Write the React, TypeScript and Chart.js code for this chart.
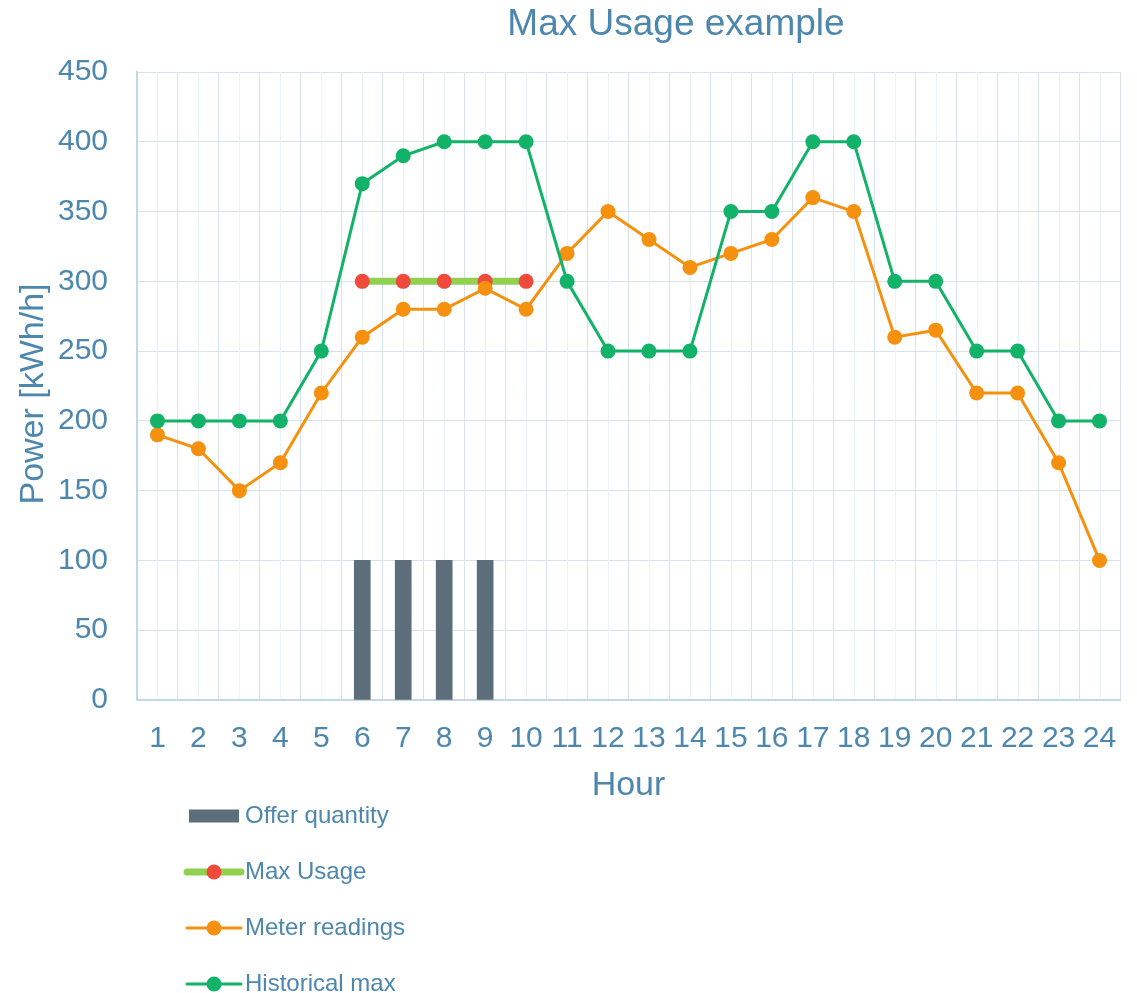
import React, { useEffect, useRef } from "react";
import { Chart, registerables } from "chart.js";

Chart.register(...registerables);

const hours = ["1","2","3","4","5","6","7","8","9","10","11","12","13","14","15","16","17","18","19","20","21","22","23","24"];
const offerQuantity = [null,null,null,null,null,100,100,100,100,null,null,null,null,null,null,null,null,null,null,null,null,null,null,null];
const maxUsage = [null,null,null,null,null,300,300,300,300,300,null,null,null,null,null,null,null,null,null,null,null,null,null,null];
const meterReadings = [190,180,150,170,220,260,280,280,295,280,320,350,330,310,320,330,360,350,260,265,220,220,170,100];
const historicalMax = [200,200,200,200,250,370,390,400,400,400,300,250,250,250,350,350,400,400,300,300,250,250,200,200];
const yMin = 0;
const yMax = 450;
const yStep = 50;
const chartTitle = "Max Usage example";
const xTitle = "Hour";
const yTitle = "Power [kWh/h]";

const TEXT = "#4d87ae";
const FONT = "'Liberation Sans', Arial, sans-serif";
const GRID = "#d6e3ed";
const MINOR = "#ecf2f7";
const AXIS = "#c4d7e5";

const minorGrid = {
  id: "minorGrid",
  beforeDatasetsDraw(chart: any) {
    const xs = chart.scales.x;
    const { top, bottom } = chart.chartArea;
    const ctx = chart.ctx;
    ctx.save();
    ctx.strokeStyle = MINOR;
    ctx.lineWidth = 1;
    for (let i = 0; i < chart.data.labels.length; i++) {
      const px = Math.round(xs.getPixelForValue(i)) + 0.5;
      ctx.beginPath();
      ctx.moveTo(px, top);
      ctx.lineTo(px, bottom - 1);
      ctx.stroke();
    }
    ctx.restore();
  },
};

const offsetTitles = {
  id: "offsetTitles",
  afterDraw(chart: any, _args: any, opts: any) {
    const ctx = chart.ctx;
    ctx.save();
    ctx.fillStyle = TEXT;
    ctx.textAlign = "center";
    ctx.textBaseline = "middle";
    ctx.font = `37px ${FONT}`;
    ctx.fillText(opts.title, opts.titleX, opts.titleY);
    ctx.font = `34px ${FONT}`;
    ctx.translate(opts.yTitleX, opts.yTitleY);
    ctx.rotate(-Math.PI / 2);
    ctx.fillText(opts.yTitle, 0, 0);
    ctx.restore();
  },
};

const customLegend = {
  id: "customLegend",
  afterDraw(chart: any, _args: any, opts: any) {
    const ctx = chart.ctx;
    const ds = chart.data.datasets;
    ctx.save();
    ctx.font = `24px ${FONT}`;
    ctx.textBaseline = "middle";
    ctx.textAlign = "left";
    ds.forEach((d: any, i: number) => {
      const cy = opts.top + i * opts.spacing;
      const x0 = opts.left;
      const x1 = opts.left + opts.width;
      const cx = (x0 + x1) / 2;
      if (d.type === "bar") {
        ctx.fillStyle = d.backgroundColor;
        ctx.fillRect(x0 + 2, cy - 6.5, opts.width - 4, 13);
      } else {
        ctx.strokeStyle = d.borderColor;
        ctx.lineWidth = d.borderWidth;
        ctx.lineCap = "round";
        ctx.beginPath();
        ctx.moveTo(x0, cy);
        ctx.lineTo(x1, cy);
        ctx.stroke();
        ctx.fillStyle = d.pointBackgroundColor;
        ctx.beginPath();
        ctx.arc(cx, cy, d.pointRadius, 0, Math.PI * 2);
        ctx.fill();
      }
      ctx.fillStyle = TEXT;
      ctx.fillText(d.label, x1 + 4, cy);
    });
    ctx.restore();
  },
};

export default function App() {
  const ref = useRef<HTMLCanvasElement>(null);
  useEffect(() => {
    document.body.style.overflow = "hidden";
    const chart = new Chart(ref.current!, {
      type: "bar",
      data: {
        labels: hours,
        datasets: [
          {
            type: "bar",
            label: "Offer quantity",
            data: offerQuantity,
            backgroundColor: "#5b6e7a",
            barThickness: 16,
            order: 3,
          } as any,
          {
            type: "line",
            label: "Max Usage",
            data: maxUsage,
            borderColor: "#92d050",
            borderWidth: 7,
            pointBackgroundColor: "#ef4a3b",
            pointBorderColor: "#ef4a3b",
            pointBorderWidth: 0,
            pointRadius: 7.5,
            spanGaps: false,
            order: 2,
          },
          {
            type: "line",
            label: "Meter readings",
            data: meterReadings,
            borderColor: "#f5910f",
            borderWidth: 3,
            pointBackgroundColor: "#f5910f",
            pointBorderColor: "#f5910f",
            pointBorderWidth: 0,
            pointRadius: 7.5,
            order: 1,
          },
          {
            type: "line",
            label: "Historical max",
            data: historicalMax,
            borderColor: "#12b368",
            borderWidth: 3,
            pointBackgroundColor: "#12b368",
            pointBorderColor: "#12b368",
            pointBorderWidth: 0,
            pointRadius: 7.5,
            order: 0,
          },
        ],
      },
      options: {
        responsive: true,
        maintainAspectRatio: false,
        animation: false,
        layout: { padding: { left: 0, right: 9, top: 64, bottom: 186.6 } },
        plugins: {
          legend: { display: false },
          tooltip: { enabled: false },
          title: { display: false },
          offsetTitles: {
            title: chartTitle,
            titleX: 668,
            titleY: 16.6,
            yTitle: yTitle,
            yTitleX: 25.5,
            yTitleY: 386,
          },
          customLegend: { left: 179, width: 54, top: 808, spacing: 56 },
        } as any,
        scales: {
          x: {
            offset: true,
            afterFit: (s: any) => {
              s.height = 106.4;
              s.paddingLeft = 0;
              s.paddingRight = 0;
            },
            grid: { offset: true, color: GRID, drawTicks: false, lineWidth: 1 },
            border: { color: AXIS, width: 2 },
            ticks: {
              color: TEXT,
              font: { family: FONT, size: 30 },
              padding: 21,
              maxRotation: 0,
              autoSkip: false,
            },
            title: {
              display: true,
              text: xTitle,
              color: TEXT,
              font: { family: FONT, size: 34 },
              padding: { top: 10.6, bottom: 0 },
            },
          },
          y: {
            min: yMin,
            max: yMax,
            afterFit: (s: any) => {
              s.width = 129;
              s.paddingTop = 0;
              s.paddingBottom = 0;
            },
            grid: { color: GRID, drawTicks: false, lineWidth: 1 },
            border: { color: AXIS, width: 2 },
            ticks: {
              stepSize: yStep,
              color: TEXT,
              font: { family: FONT, size: 30 },
              padding: 29,
            },
            title: { display: false },
          },
        },
      },
      plugins: [minorGrid, offsetTitles, customLegend],
    });
    return () => chart.destroy();
  }, []);
  return (
    <div style={{ position: "relative", width: "100%", height: 985 }}>
      <canvas ref={ref} />
    </div>
  );
}
